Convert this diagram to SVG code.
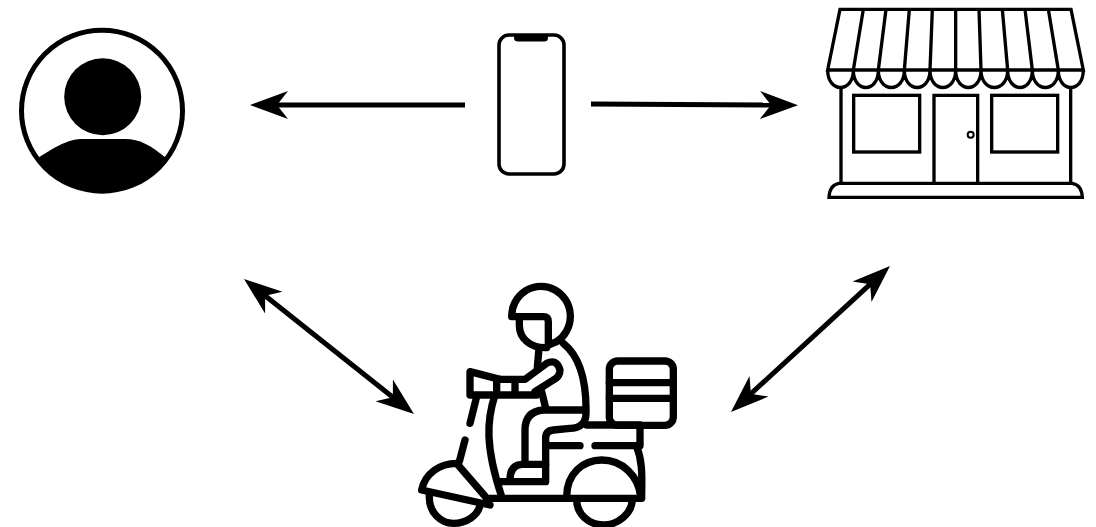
<svg xmlns="http://www.w3.org/2000/svg" width="1096" height="527" viewBox="0 0 1096 527">
<style>
.conn{fill:none;stroke:#000;stroke-width:5;marker-end:url(#ah)}
.both{marker-start:url(#ah)}
.ln{fill:none;stroke:#000;stroke-linecap:round;stroke-linejoin:round}
.rider{stroke-width:22}
.store{stroke-width:10;stroke-linecap:butt;stroke-linejoin:miter}
.knob{stroke-width:6}
</style>
<defs>
<marker id="ah" markerUnits="userSpaceOnUse" markerWidth="40" markerHeight="30" refX="13" refY="15" orient="auto-start-reverse">
<path d="M38,15 L0,1 L11,15 L0,29 Z" fill="#000"/>
</marker>
</defs>
<rect width="1096" height="527" fill="#fff"/>
<g id="connectors">
<path class="conn" d="M465,105 L275,105"/>
<path class="conn" d="M591,104 L773,105"/>
<path class="conn both" d="M263.6,294.5 L394.4,398.5"/>
<path class="conn both" d="M871.6,282.9 L749.4,395.1"/>
</g>
<g id="customer">
<circle cx="102" cy="110.7" r="80.5" fill="none" stroke="#000" stroke-width="5"/>
<circle cx="102.7" cy="96.7" r="38.5" fill="#000"/>
<path d="M38,158 C60,143 72,139 82,139 H125 C140,139 150,145 166,158 A80,80 0 0 1 38,158 Z" fill="#000"/>
</g>
<g id="phone">
<rect x="499" y="35" width="65" height="139" rx="10" fill="#fff" stroke="#000" stroke-width="3.6"/>
<path d="M514,35 H548 V38 Q548,41.5 544,41.5 H518 Q514,41.5 514,38 Z" fill="#000"/>
</g>
<g id="store" transform="translate(815,0) scale(0.33333)">
<path class="ln store" d="M38,210 L75,28 H768 L805,210 Z"/>
<path class="ln store" d="M115,210 L145,28 M190,210 L213,28 M268,210 L283,28 M345,210 L352,28 M422,210 V28 M498,210 L492,28 M578,210 L562,28 M652,210 L630,28 M730,210 L700,28"/>
<path class="ln store" d="M38,210 C38,280 115,280 115,210 C115,280 190,280 190,210 C190,280 268,280 268,210 C268,280 345,280 345,210 C345,280 422,280 422,210 C422,280 498,280 498,210 C498,280 578,280 578,210 C578,280 652,280 652,210 C652,280 730,280 730,210 C730,280 805,280 805,210"/>
<path class="ln store" d="M78,258 V550 M767,258 V550"/>
<rect class="ln store" x="116" y="286" width="198" height="170"/>
<rect class="ln store" x="530" y="286" width="198" height="170"/>
<path class="ln store" d="M357,550 V286 H488 V550"/>
<circle class="ln knob" cx="467" cy="404" r="9"/>
<path class="ln store" d="M72,550 H772 Q800,555 802,592 H42 Q44,555 72,550 Z"/>
</g>
<g id="courier" transform="translate(400,280) scale(0.33333)">
<path class="ln rider" d="M335,110 A88,90 0 1 1 470,185 L445,195 V125 Q445,110 430,110 Z"/>
<path class="ln rider" d="M358,115 V135 C358,175 390,205 440,203"/>
<path class="ln rider" d="M417,205 L412,262"/>
<path class="ln rider" d="M490,190 C540,230 560,300 558,400 C558,430 540,445 510,445 L460,450 Q437,452 437,475 V605 H300"/>
<path class="ln rider" d="M330,600 Q330,555 365,553 H437"/>
<path class="ln rider" d="M550,390 H430 Q375,395 375,450 V553"/>
<path class="ln rider" d="M425,335 L438,388"/>
<path class="ln rider" d="M300,298 H375 L440,250 Q470,235 480,270 Q480,290 460,300 L405,335"/>
<path class="ln rider" d="M300,298 L210,275 V345 H410"/>
<path class="ln rider" d="M290,300 V340 M345,305 V340"/>
<path class="ln rider" d="M285,345 C260,420 255,500 305,650"/>
<path class="ln rider" d="M230,350 L210,430 M195,480 L178,545"/>
<path class="ln rider" d="M65,630 C75,580 120,550 170,550 L265,660 M65,630 L270,675"/>
<path class="ln rider" d="M88,645 C85,700 125,730 160,730 C200,730 235,705 240,675"/>
<path class="ln rider" d="M270,655 H725"/>
<path class="ln rider" d="M500,650 C500,580 550,540 605,540 C665,540 715,585 722,650"/>
<path class="ln rider" d="M530,660 C530,700 565,735 610,735 C655,735 695,700 697,660"/>
<path class="ln rider" d="M710,500 C730,550 725,600 725,650"/>
<path class="ln rider" d="M560,435 H720 V490"/>
<path class="ln rider" d="M445,497 H540 M585,497 H720"/>
<rect class="ln rider" x="628" y="243" width="192" height="193" rx="25"/>
<path class="ln rider" d="M628,308 H820 M628,355 H820"/>
</g>
</svg>
